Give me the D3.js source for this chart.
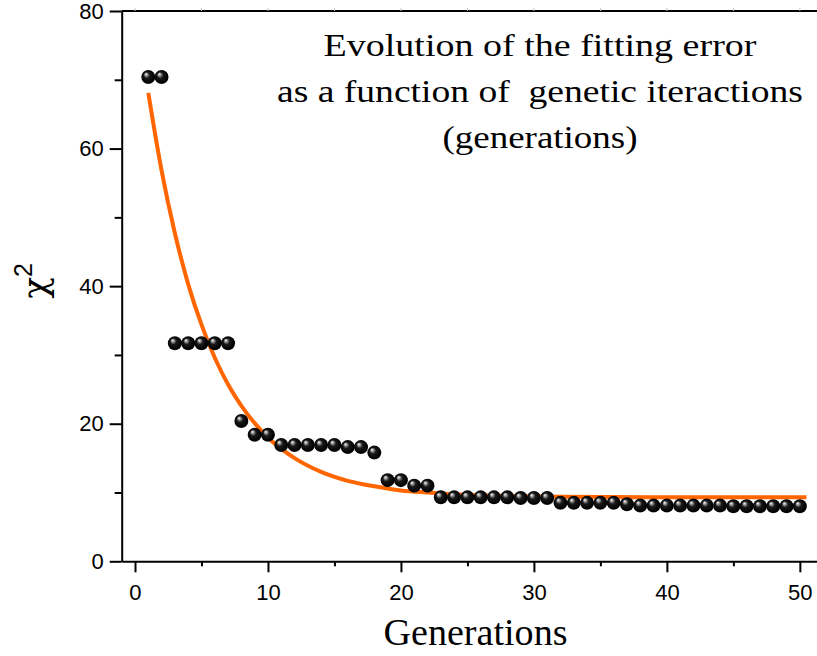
<!DOCTYPE html>
<html>
<head>
<meta charset="utf-8">
<script src="https://cdn.jsdelivr.net/npm/d3@7"></script>
<style>
  body { margin: 0; background: #fff; }
  svg { display: block; }
</style>
</head>
<body>
<div id="chart"></div>
<script>
// chi-square of the best individual per generation
const generations = d3.range(1, 51);
const chiSquare = [
  70.4, 70.4, 31.7, 31.7, 31.7, 31.7, 31.7, 20.4, 18.4, 18.4,
  16.9, 16.9, 16.9, 16.9, 16.9, 16.6, 16.6, 15.8, 11.8, 11.8,
  11.0, 11.0, 9.3, 9.3, 9.3, 9.3, 9.3, 9.3, 9.2, 9.2,
  9.2, 8.5, 8.5, 8.5, 8.5, 8.5, 8.3, 8.1, 8.1, 8.1,
  8.1, 8.1, 8.1, 8.1, 8.0, 8.0, 8.0, 8.0, 8.0, 8.0
];

// fitted decay curve
const fitX = [1, 2, 3, 4, 5, 6, 7, 8, 10, 12, 14, 16, 18, 20, 22, 25, 28, 32, 40, 50.5];
const fitY = [68.1, 56.8, 47.7, 40.3, 34.4, 29.6, 25.7, 22.6, 18.0, 15.0, 13.0, 11.7, 10.9, 10.3, 10.0, 9.66, 9.5, 9.4, 9.3, 9.3];

const xMajor = [0, 10, 20, 30, 40, 50];
const xMinor = [5, 15, 25, 35, 45];
const yMajor = [0, 20, 40, 60, 80];
const yMinor = [10, 30, 50, 70];

const titleLines = [
  "Evolution of the fitting error",
  "as a function of  genetic iteractions",
  "(generations)"
];

const width = 817, height = 656;
const x = d3.scaleLinear().domain([-1, 51.29]).range([121.7, 817]);
const y = d3.scaleLinear().domain([0, 80]).range([561.3, 11]);

const svg = d3.select("#chart").append("svg")
  .attr("width", width)
  .attr("height", height);

const defs = svg.append("defs");
const grad = defs.append("radialGradient")
  .attr("id", "ball")
  .attr("cx", "50%").attr("cy", "50%").attr("r", "55%")
  .attr("fx", "32%").attr("fy", "28%");
grad.append("stop").attr("offset", "0%").attr("stop-color", "#ffffff");
grad.append("stop").attr("offset", "14%").attr("stop-color", "#b0b0b0");
grad.append("stop").attr("offset", "40%").attr("stop-color", "#1a1a1a");
grad.append("stop").attr("offset", "85%").attr("stop-color", "#000000");
grad.append("stop").attr("offset", "100%").attr("stop-color", "#3a3a3a");

const tickFont = "'Liberation Sans', Arial, Helvetica, sans-serif";
const serifFont = "'Palatino Linotype', Palatino, 'Liberation Serif', serif";

// top frame line with faint ticks
svg.append("line")
  .attr("x1", x.range()[0]).attr("x2", width)
  .attr("y1", y(80)).attr("y2", y(80))
  .attr("stroke", "#000").attr("stroke-width", 2);
svg.append("g").selectAll("line")
  .data(xMajor.concat(xMinor))
  .join("line")
  .attr("x1", d => x(d)).attr("x2", d => x(d))
  .attr("y1", y(80) - 3).attr("y2", y(80))
  .attr("stroke", "#ccc").attr("stroke-width", 1);

// minor ticks
svg.append("g")
  .attr("transform", `translate(0,${y(0)})`)
  .call(d3.axisBottom(x).tickValues(xMinor).tickSize(5).tickSizeOuter(0).tickFormat(""))
  .call(g => g.select(".domain").remove())
  .selectAll("line").attr("stroke-width", 2);
svg.append("g")
  .attr("transform", `translate(${x(-1)},0)`)
  .call(d3.axisLeft(y).tickValues(yMinor).tickSize(7).tickSizeOuter(0).tickFormat(""))
  .call(g => g.select(".domain").remove())
  .selectAll("line").attr("stroke-width", 2);

// major axes
const xAxis = svg.append("g")
  .attr("transform", `translate(0,${y(0)})`)
  .call(d3.axisBottom(x).tickValues(xMajor).tickSize(11).tickSizeOuter(0).tickPadding(12));
const yAxis = svg.append("g")
  .attr("transform", `translate(${x(-1)},0)`)
  .call(d3.axisLeft(y).tickValues(yMajor).tickSize(12).tickSizeOuter(0).tickPadding(6));

[xAxis, yAxis].forEach(g => {
  g.select(".domain").attr("stroke-width", 2);
  g.selectAll(".tick line").attr("stroke-width", 2);
  g.selectAll(".tick text")
    .attr("fill", "#000")
    .style("font-family", tickFont)
    .style("font-size", "22px");
});

// fitted curve
const line = d3.line()
  .x((d, i) => x(fitX[i]))
  .y(d => y(d))
  .curve(d3.curveMonotoneX);
svg.append("path")
  .datum(fitY)
  .attr("d", line)
  .attr("fill", "none")
  .attr("stroke", "#ff6600")
  .attr("stroke-width", 4);

// data balls
svg.append("g").selectAll("circle")
  .data(chiSquare)
  .join("circle")
  .attr("cx", (d, i) => x(generations[i]))
  .attr("cy", d => y(d))
  .attr("r", 7)
  .attr("fill", "url(#ball)");

// title
const titleWidths = [433, 526, 195];
svg.append("g").selectAll("text")
  .data(titleLines)
  .join("text")
  .attr("x", 540)
  .attr("y", (d, i) => 56 + i * 46)
  .attr("text-anchor", "middle")
  .attr("textLength", (d, i) => titleWidths[i])
  .attr("lengthAdjust", "spacingAndGlyphs")
  .style("font-family", serifFont)
  .style("font-size", "31px")
  .style("white-space", "pre")
  .attr("fill", "#000")
  .text(d => d);

// axis titles
svg.append("text")
  .attr("x", 475.5)
  .attr("y", 645)
  .attr("text-anchor", "middle")
  .attr("textLength", 184)
  .attr("lengthAdjust", "spacingAndGlyphs")
  .style("font-family", serifFont)
  .style("font-size", "38px")
  .attr("fill", "#000")
  .text("Generations");

const yTitle = svg.append("text")
  .attr("transform", "translate(47,281) rotate(-90)")
  .attr("text-anchor", "middle")
  .style("font-family", "'DejaVu Serif', serif")
  .style("font-size", "36px")
  .attr("fill", "#000");
yTitle.append("tspan").text("χ");
yTitle.append("tspan")
  .attr("dy", "-0.6em")
  .style("font-family", tickFont)
  .style("font-size", "25px")
  .text("2");
</script>
</body>
</html>
